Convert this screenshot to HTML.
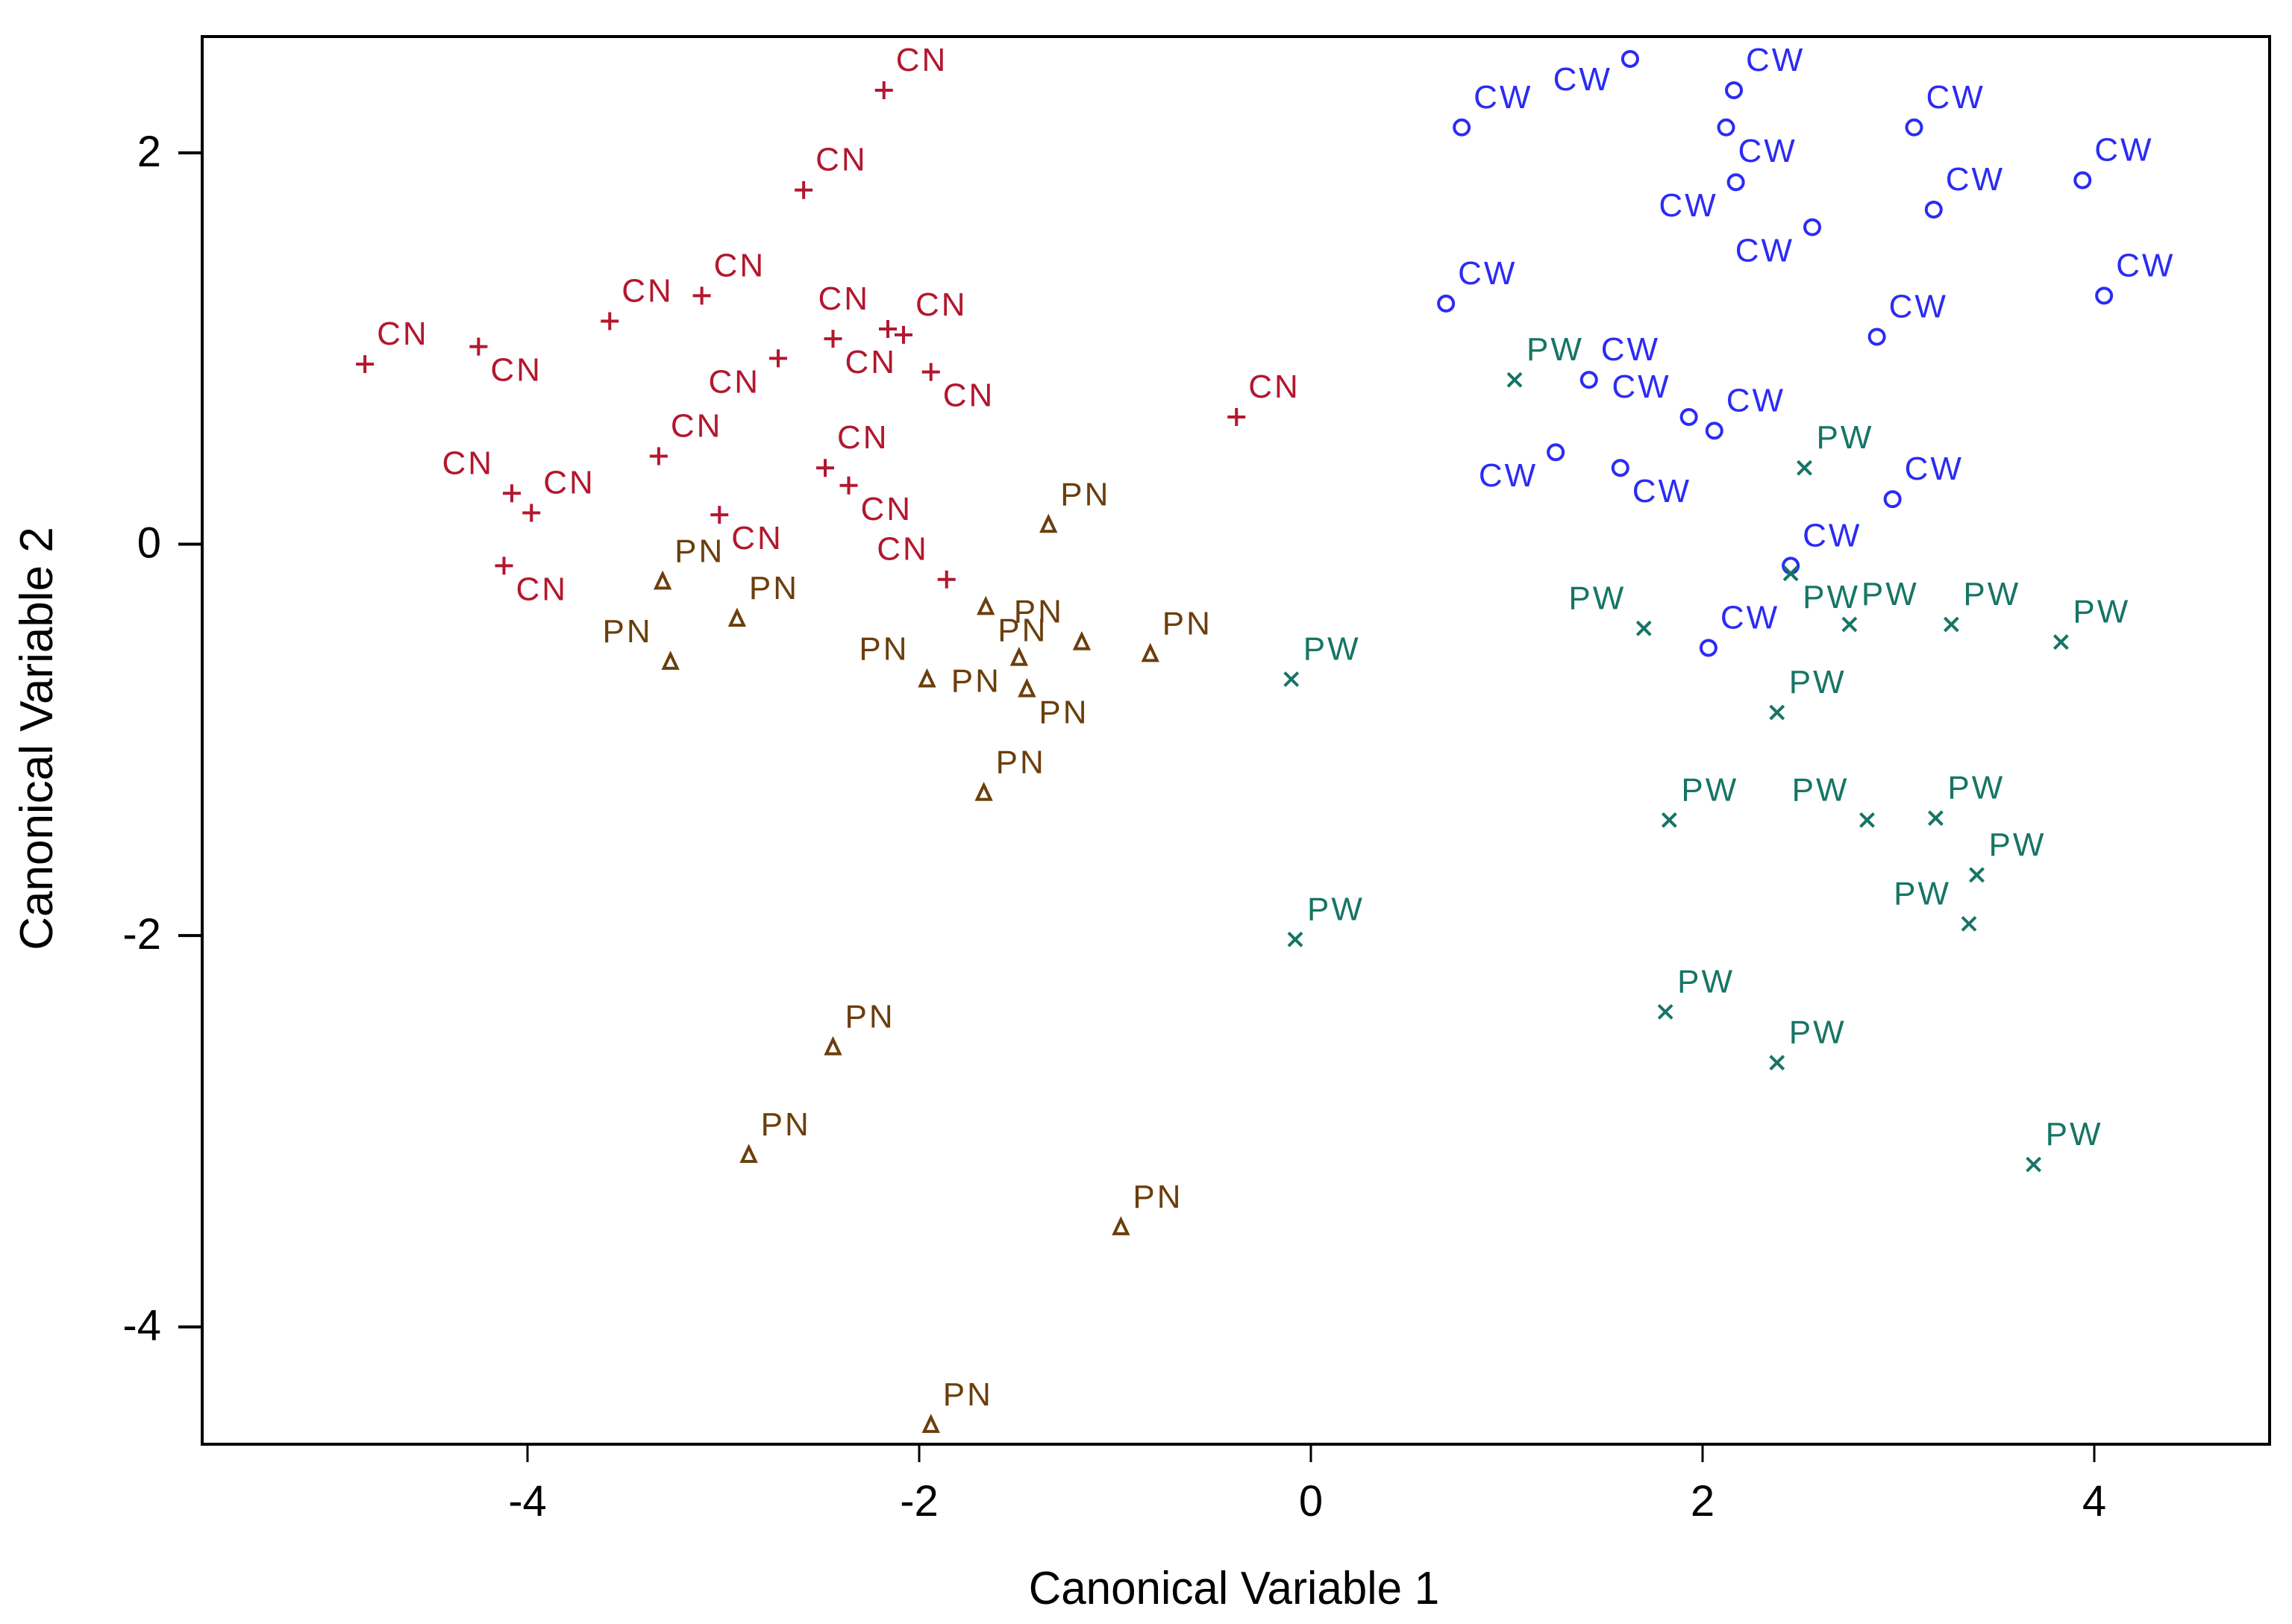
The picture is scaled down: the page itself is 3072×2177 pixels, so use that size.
<!DOCTYPE html>
<html><head><meta charset="utf-8"><style>
html,body{margin:0;padding:0;background:#fff;}
svg{display:block;font-family:"Liberation Sans",sans-serif;}
</style></head><body>
<svg id="chart" width="3072" height="2177" viewBox="0 0 3072 2177" xmlns="http://www.w3.org/2000/svg">
<rect x="0" y="0" width="3072" height="2177" fill="#fff"/>
<rect x="271" y="49" width="2771" height="1887" fill="none" stroke="#000" stroke-width="4"/>
<g id="axes"></g>
<g id="marks"></g>
<text x="1654" y="2150" font-size="62" text-anchor="middle" fill="#000" transform="translate(1654,0) scale(0.97,1) translate(-1654,0)">Canonical Variable 1</text>
<text x="0" y="0" font-size="62" text-anchor="middle" fill="#000" transform="translate(70,990) rotate(-90) scale(1.0,1)">Canonical Variable 2</text>
</svg>
<script>
const xTicks=[-4,-2,0,2,4];
const yTicks=[2,0,-2,-4];
const groups=['CN','PN','CW','PW'];
const cnX=[-2.18,-2.59,-3.58,-3.11,-4.83,-4.25,-2.72,-2.44,-2.16,-2.08,-1.94,-0.38,-3.33,-4.08,-3.98,-4.12,-2.48,-2.36,-3.02,-1.86];
const cnY=[2.32,1.81,1.14,1.27,0.92,1.01,0.95,1.05,1.10,1.07,0.88,0.65,0.45,0.26,0.16,-0.11,0.39,0.30,0.15,-0.18];
const cnPos=['ur','ur','ur','ur','ur','lr','ll','lr','ul','ur','lr','ur','ur','ul','ur','lr','ur','lr','lr','ul'];
const pnX=[-1.34,-3.31,-2.93,-3.27,-1.96,-1.66,-1.49,-1.45,-1.17,-0.82,-1.67,-2.44,-2.87,-0.97,-1.94];
const pnY=[0.10,-0.19,-0.38,-0.60,-0.69,-0.32,-0.58,-0.74,-0.50,-0.56,-1.27,-2.57,-3.12,-3.49,-4.50];
const pnPos=['ur','ur','ur','ul','ul','lr','ll','lr','ul','ur','ur','ur','ur','ur','ur'];
const cwX=[0.77,1.63,2.16,2.12,2.17,2.56,3.08,3.18,3.94,4.05,0.69,2.89,1.42,1.93,2.06,1.25,1.58,2.97,2.45,2.03];
const cwY=[2.13,2.48,2.32,2.13,1.85,1.62,2.13,1.71,1.86,1.27,1.23,1.06,0.84,0.65,0.58,0.47,0.39,0.23,-0.11,-0.53];
const cwPos=['ur','ml','ur','lr','ll','ll','ur','ur','ur','ur','ur','ur','ur','ul','ur','ll','lr','ur','ur','ur'];
const pwX=[1.04,2.52,1.70,2.45,2.75,3.27,3.83,-0.10,2.38,1.83,2.84,3.19,3.40,3.36,-0.08,1.81,2.38,3.69];
const pwY=[0.84,0.39,-0.43,-0.15,-0.41,-0.41,-0.50,-0.69,-0.86,-1.41,-1.41,-1.40,-1.69,-1.94,-2.02,-2.39,-2.65,-3.17];
const pwPos=['ur','ur','ul','lr','ur','ur','ur','ur','ur','ur','ul','ur','ur','ul','ur','ur','ur','ur'];

const NS='http://www.w3.org/2000/svg';
const xs=v=>1757+v*262.5;
const ys=v=>729.5-v*262.3;
const axes=document.getElementById('axes');
const marks=document.getElementById('marks');
function mk(tag,parent){const e=document.createElementNS(NS,tag);parent.appendChild(e);return e;}

xTicks.forEach(t=>{
  const l=mk('line',axes);
  
  
  l.setAttribute('x1',xs(t));l.setAttribute('x2',xs(t));l.setAttribute('y1',1936);l.setAttribute('y2',1960);
  l.setAttribute('stroke','#000');l.setAttribute('stroke-width','3');
  const tx=mk('text',axes);
  
  
  tx.setAttribute('x',xs(t));tx.setAttribute('y',2032);tx.setAttribute('font-size','58');tx.setAttribute('text-anchor','middle');
  tx.textContent=t;
});
yTicks.forEach(t=>{
  const l=mk('line',axes);
  
  
  l.setAttribute('x1',239);l.setAttribute('x2',271);l.setAttribute('y1',ys(t));l.setAttribute('y2',ys(t));
  l.setAttribute('stroke','#000');l.setAttribute('stroke-width','4');
  const tx=mk('text',axes);
  
  
  tx.setAttribute('x',216);tx.setAttribute('y',ys(t)+18);tx.setAttribute('font-size','58');tx.setAttribute('text-anchor','end');
  tx.textContent=t;
});

const colors={CN:'#b3172e',PN:'#6b3e0c',CW:'#2b2bf5',PW:'#167565'};
function marker(g,cx,cy){
  const c=colors[g];let e;
  if(g==='CN'){e=mk('path',marks);e.setAttribute('d',`M${cx-12} ${cy}H${cx+12}M${cx} ${cy-12}V${cy+12}`);e.setAttribute('stroke',c);e.setAttribute('stroke-width','4');e.setAttribute('fill','none');}
  else if(g==='PN'){e=mk('path',marks);e.setAttribute('d',`M${cx} ${cy-10}L${cx+9} ${cy+9}L${cx-9} ${cy+9}Z`);e.setAttribute('stroke',c);e.setAttribute('stroke-width','4');e.setAttribute('fill','none');}
  else if(g==='CW'){e=mk('circle',marks);e.setAttribute('cx',cx);e.setAttribute('cy',cy);e.setAttribute('r',10);e.setAttribute('stroke',c);e.setAttribute('stroke-width','4');e.setAttribute('fill','none');}
  else {e=mk('path',marks);e.setAttribute('d',`M${cx-9} ${cy-9}L${cx+9} ${cy+9}M${cx+9} ${cy-9}L${cx-9} ${cy+9}`);e.setAttribute('stroke',c);e.setAttribute('stroke-width','4');e.setAttribute('fill','none');}
  return e;
}
function draw(g,X,Y,P){
  X.forEach((xv,i)=>{
    const cx=xs(xv),cy=ys(Y[i]);
    const m=marker(g,cx,cy);
    
    
    const t=mk('text',marks);
    
    
    const p=P[i];
    const right=p[1]==='r';
    const dy=p[0]==='u'?-26:(p[0]==='m'?44:46);
    t.setAttribute('x',cx+(right?16:-24));
    t.setAttribute('y',p[0]==='m'?cy+42:cy+dy);
    t.setAttribute('text-anchor',right?'start':'end');
    t.setAttribute('font-size','44');
    t.setAttribute('letter-spacing','3');
    t.setAttribute('fill',colors[g]);
    t.textContent=g;
  });
}
draw('CN',cnX,cnY,cnPos);
draw('PN',pnX,pnY,pnPos);
draw('CW',cwX,cwY,cwPos);
draw('PW',pwX,pwY,pwPos);
</script>
</body></html>
